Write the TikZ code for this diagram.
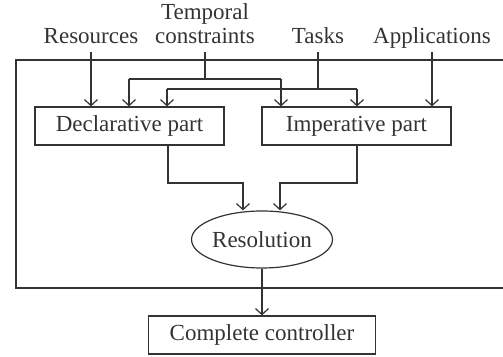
\documentclass[tikz,border=0pt]{standalone}
\usepackage{fontspec}
\setmainfont{Liberation Serif}
\usetikzlibrary{arrows.meta,shapes.geometric}
\definecolor{ink}{gray}{0.2}
\begin{document}
\begin{tikzpicture}[x=0.5pt,y=-0.5pt,
  ln/.style={draw=ink,line width=0.6pt},
  arr/.style={ln,-{Straight Barb[length=3pt,width=6.5pt,line width=0.6pt]}},
  txt/.style={text=ink,font=\fontsize{11.5}{12}\selectfont},
  box/.style={draw=ink,line width=0.6pt,rectangle,inner sep=0pt,txt},
  lbl/.style={txt,inner sep=0pt,align=center,anchor=base}]
\useasboundingbox (0,0) rectangle (503,357);
\draw[ln] (505,60) -- (16,60) -- (16,288) -- (505,288);
% labels
\node[lbl] (res) at (91,44) {Resources};
\node[lbl] (tc) at (205,44) {Temporal\\constraints};
\node[lbl] (tasks) at (318,44) {Tasks};
\node[lbl] (app) at (432,44) {Applications};
\coordinate (tcb) at (205,52);
\coordinate (tab) at (318,52);
% boxes
\node[box,minimum width=189*0.5pt,minimum height=38*0.5pt] (decl) at (129.5,126) {Declarative part};
\node[box,minimum width=189*0.5pt,minimum height=38*0.5pt] (imp) at (356.5,126) {Imperative part};
\node[ellipse,draw=ink,line width=0.6pt,inner sep=0pt,minimum width=132*0.5pt,minimum height=57*0.5pt,txt] (resol) at (262,239.5) {Resolution};
\node[box,minimum width=227*0.5pt,minimum height=38*0.5pt] (cc) at (262,335) {Complete controller};
% connectors
\draw[arr] (91,52) -- (decl.north -| 91,0);
\draw[ln] (tcb) -- (205,79);
\draw[ln] (129,79) -- (281,79);
\draw[arr] (129,79) -- (decl.north -| 129,0);
\draw[arr] (281,79) -- (imp.north -| 281,0);
\draw[ln] (tab) -- (318,89);
\draw[ln] (167,89) -- (357,89);
\draw[arr] (167,89) -- (decl.north -| 167,0);
\draw[arr] (357,89) -- (imp.north -| 357,0);
\draw[arr] (432,52) -- (imp.north -| 432,0);
\draw[arr] (decl.south -| 168,0) -- (168,183) -- (243,183) -- (resol.north -| 243,0);
\draw[arr] (imp.south -| 357,0) -- (357,183) -- (280,183) -- (resol.north -| 280,0);
\draw[arr] (resol.south) -- (cc.north);
\end{tikzpicture}
\end{document}
